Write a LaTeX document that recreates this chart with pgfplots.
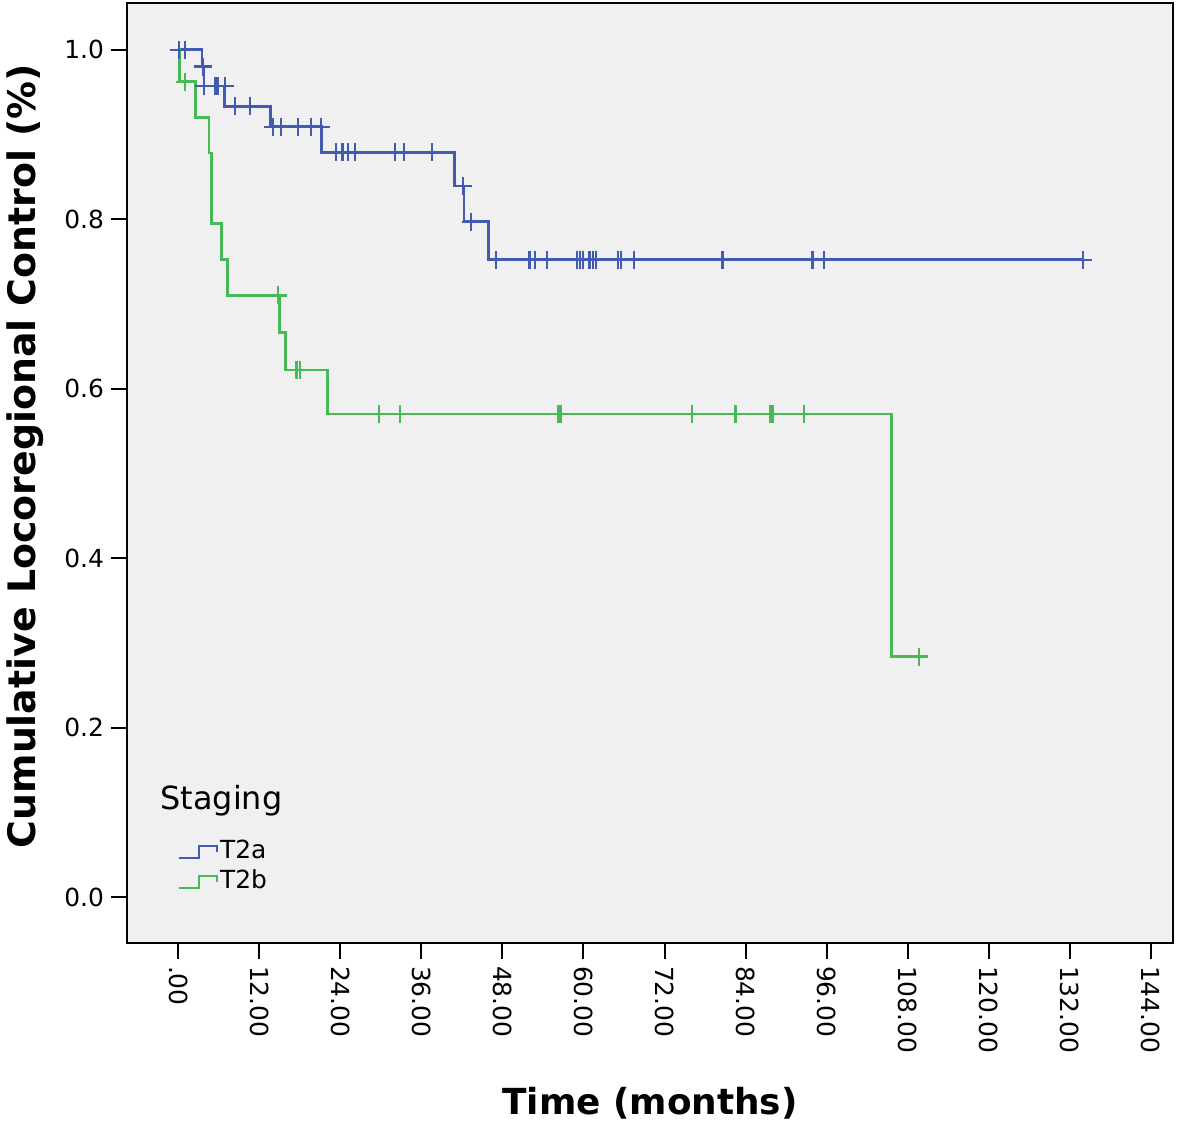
\documentclass[border=0pt]{standalone}
\usepackage{pgfplots}
\pgfplotsset{compat=1.18}
\usepackage{fontspec}
\setmainfont{DejaVu Sans}
\definecolor{tblue}{RGB}{66,90,176}
\definecolor{tgreen}{RGB}{70,186,84}
\definecolor{bg}{RGB}{240,240,240}
\begin{document}
\begin{tikzpicture}
\begin{axis}[
  scale only axis, width=523bp, height=470bp,
  xmin=-7.6, xmax=147.3, ymin=-0.054, ymax=1.055,
  axis background/.style={fill=bg},
  axis line style={line width=1bp, black},
  xtick={0,12,24,36,48,60,72,84,96,108,120,132,144},
  xticklabels={.00,12.00,24.00,36.00,48.00,60.00,72.00,84.00,96.00,108.00,120.00,132.00,144.00},
  ytick={0,0.2,0.4,0.6,0.8,1.0},
  yticklabels={0.0,0.2,0.4,0.6,0.8,1.0},
  tick align=outside, major tick length=8bp,
  tick style={line width=1bp, black},
  xtick pos=bottom, ytick pos=left,
  x tick label style={rotate=-90, anchor=west, font=\fontsize{12.5}{14}\selectfont},
  y tick label style={font=\fontsize{12.5}{14}\selectfont},
  xlabel={Time (months)},
  ylabel={Cumulative Locoregional Control (\%)},
  xlabel style={font=\bfseries\fontsize{18}{20}\selectfont, at={(axis description cs:0.5,-0.170)}, anchor=center},
  ylabel style={font=\bfseries\fontsize{19}{21}\selectfont, at={(axis description cs:-0.0975,0.518)}, anchor=center},
  legend style={draw=none, fill=none, at={(axis description cs:0.0488,0.1117)}, anchor=north west,
    inner sep=0pt, outer sep=0pt, font=\fontsize{12.5}{14}\selectfont, row sep=1.5bp,
    nodes={inner sep=1bp, text height=9bp, text depth=2.5bp}},
  legend cell align=left,
  legend image code/.code={\draw[#1, mark=none, line width=1bp] (0bp,-3bp) -- (10bp,-3bp) -- (10bp,3bp) -- (19bp,3bp) -- (19bp,0bp);},
]
% T2a survival steps
\addplot[tblue, line width=1.4bp, const plot, mark=none] coordinates {
 (0,1.000) (3.5,0.980) (3.8,0.957) (6.8,0.933) (13.7,0.909) (21.2,0.879)
 (40.85,0.839) (42.3,0.797) (45.9,0.752) (134.0,0.752)};
\addlegendentry{T2a}
% T2b survival steps
\addplot[tgreen, line width=1.4bp, const plot, mark=none] coordinates {
 (0,1.000) (0.2,0.962) (2.6,0.920) (4.55,0.878) (4.9,0.795) (6.4,0.752)
 (7.3,0.710) (15.0,0.666) (15.9,0.622) (22.1,0.570) (105.6,0.284) (109.7,0.284)};
\addlegendentry{T2b}
% T2a censored
\addplot[forget plot, only marks, mark=+, mark size=4.5bp, tblue, line width=1.1bp] coordinates {
 (0.1,1.000) (1.0,1.000) (3.6,0.980)
 (3.8,0.957) (5.5,0.957) (5.8,0.957) (6.9,0.957)
 (8.4,0.933) (10.6,0.933)
 (14.0,0.909) (15.2,0.909) (17.7,0.909) (19.6,0.909) (21.1,0.909)
 (23.3,0.879) (24.3,0.879) (25.1,0.879) (26.2,0.879) (32.1,0.879) (33.4,0.879) (37.6,0.879)
 (42.1,0.839) (43.3,0.797)
 (47.0,0.752) (52.0,0.752) (52.8,0.752) (54.6,0.752) (59.0,0.752) (59.5,0.752) (59.9,0.752)
 (60.9,0.752) (61.4,0.752) (61.8,0.752) (65.1,0.752) (65.6,0.752) (67.5,0.752) (80.6,0.752)
 (93.9,0.752) (95.6,0.752) (134.0,0.752)};
% T2b censored
\addplot[forget plot, only marks, mark=+, mark size=4.5bp, tgreen, line width=1.1bp] coordinates {
 (1.0,0.962) (14.8,0.710) (17.5,0.622) (18.0,0.622)
 (29.7,0.570) (32.8,0.570) (56.3,0.570) (56.6,0.570) (76.1,0.570) (82.5,0.570)
 (87.6,0.570) (88.0,0.570) (92.7,0.570) (109.7,0.284)};
\node[anchor=west, font=\fontsize{16}{18}\selectfont, inner sep=0pt] at (axis cs:-2.7,0.114) {Staging};
\end{axis}
\pgfresetboundingbox
\useasboundingbox (-63.5bp,-90.5bp) rectangle (527bp,471.5bp);
\end{tikzpicture}
\end{document}
